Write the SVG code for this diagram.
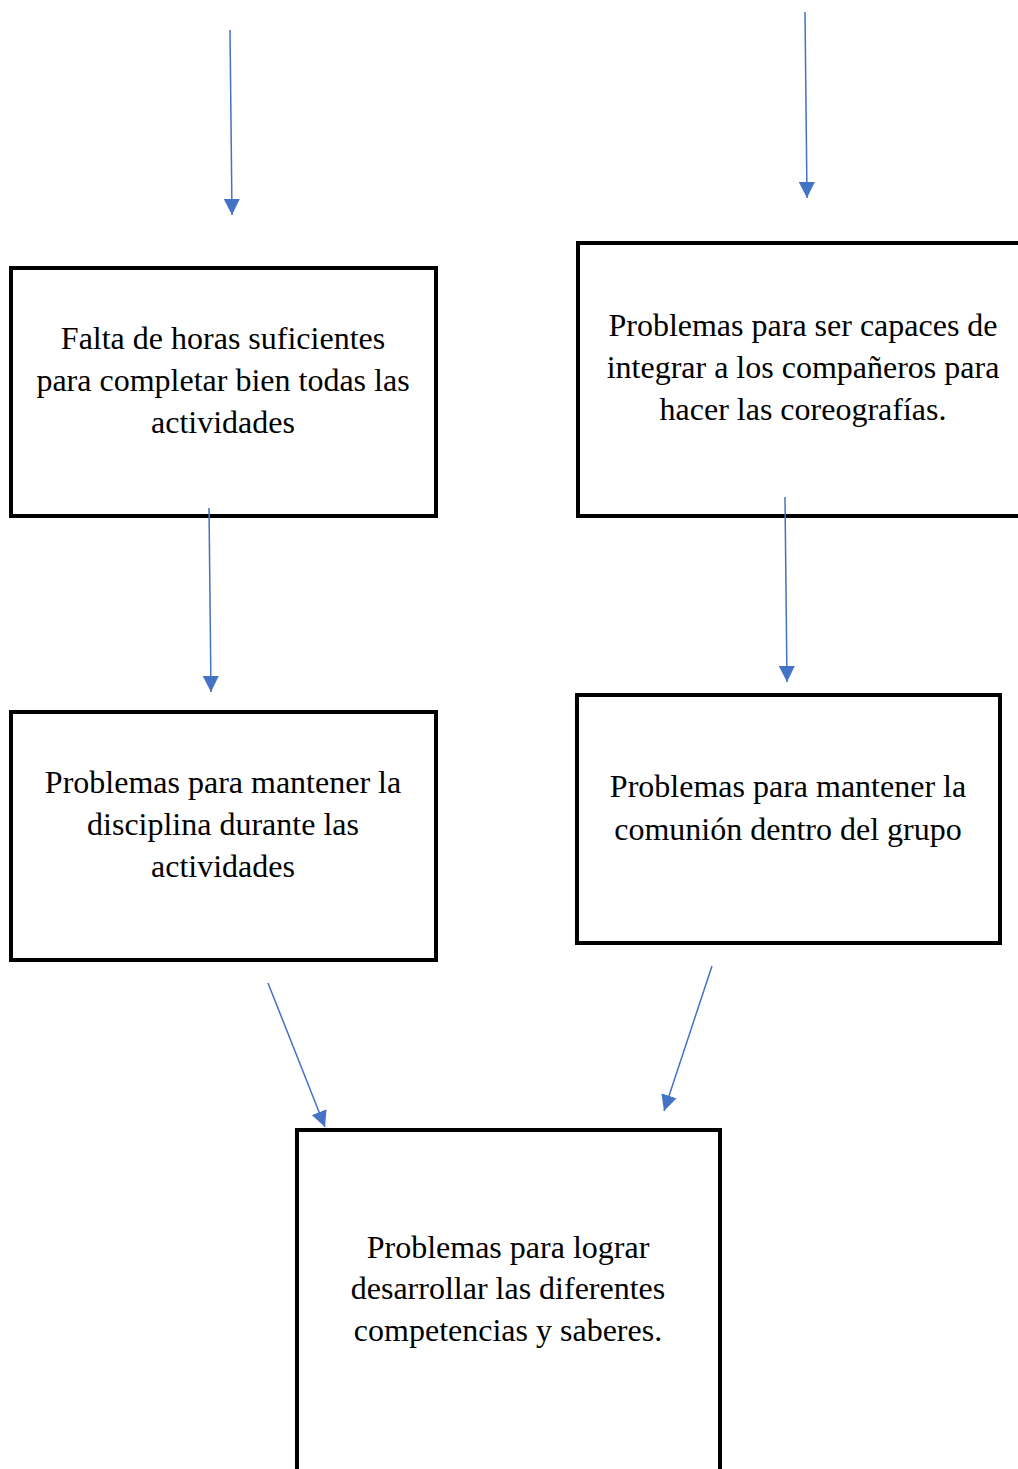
<svg xmlns="http://www.w3.org/2000/svg" width="1018" height="1469" viewBox="0 0 1018 1469">
<style>
.box{fill:#fff;stroke:#000;stroke-width:4}
.t{font-family:"Liberation Serif","Times New Roman",serif;font-size:32px;fill:#000;text-anchor:middle}
.c{stroke:#4472c4;stroke-width:1.5;fill:none;marker-end:url(#ah)}
</style>
<defs>
<marker id="ah" viewBox="0 0 10 10" refX="10" refY="5" markerWidth="16" markerHeight="16" markerUnits="userSpaceOnUse" orient="auto"><path d="M0,0 L10,5 L0,10 z" fill="#4472c4"/></marker>
</defs>
<rect width="1018" height="1469" fill="#fff"/>
<g id="n1"><rect class="box" x="11" y="268" width="425" height="248"/>
<text class="t" x="223" y="349">Falta de horas suficientes</text>
<text class="t" x="223" y="391">para completar bien todas las</text>
<text class="t" x="223" y="433">actividades</text></g>
<g id="n2"><rect class="box" x="578" y="243" width="460" height="273"/>
<text class="t" x="803" y="336">Problemas para ser capaces de</text>
<text class="t" x="803" y="378">integrar a los compañeros para</text>
<text class="t" x="803" y="420">hacer las coreografías.</text></g>
<g id="n3"><rect class="box" x="11" y="712" width="425" height="248"/>
<text class="t" x="223" y="793">Problemas para mantener la</text>
<text class="t" x="223" y="835">disciplina durante las</text>
<text class="t" x="223" y="877">actividades</text></g>
<g id="n4"><rect class="box" x="577" y="695" width="423" height="248"/>
<text class="t" x="788" y="797">Problemas para mantener la</text>
<text class="t" x="788" y="840">comunión dentro del grupo</text></g>
<g id="n5"><rect class="box" x="297" y="1130" width="423" height="360"/>
<text class="t" x="508" y="1258">Problemas para lograr</text>
<text class="t" x="508" y="1299">desarrollar las diferentes</text>
<text class="t" x="508" y="1341">competencias y saberes.</text></g>
<g id="connectors">
<line class="c" x1="230" y1="30" x2="232" y2="215"/>
<line class="c" x1="805" y1="12" x2="807" y2="198"/>
<line class="c" x1="209" y1="508" x2="211" y2="692"/>
<line class="c" x1="785" y1="497" x2="787" y2="682"/>
<line class="c" x1="268" y1="983" x2="325" y2="1127"/>
<line class="c" x1="712" y1="966" x2="664" y2="1111"/>
</g>
</svg>
